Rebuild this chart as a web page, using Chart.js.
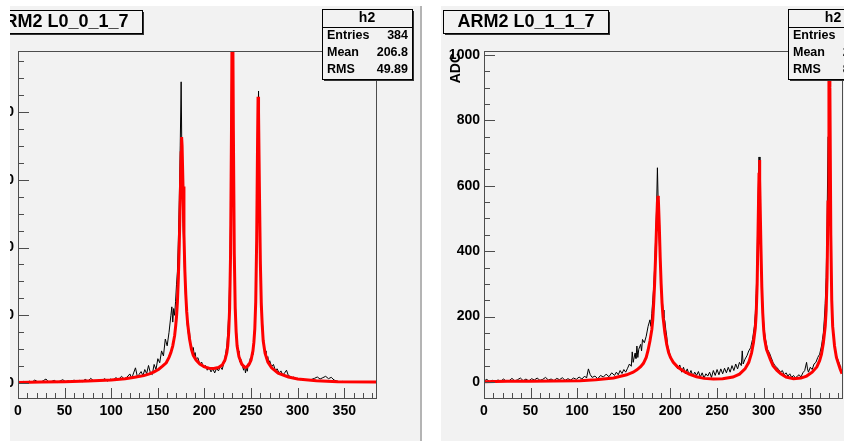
<!DOCTYPE html>
<html>
<head>
<meta charset="utf-8">
<title>ARM2 L0 ADC spectra</title>
<script src="https://cdn.jsdelivr.net/npm/chart.js@4.4.0/dist/chart.umd.min.js"></script>
<style>
body { margin: 0; background: #fff; width: 844px; height: 441px; overflow: hidden; position: relative; }
.pad { position: absolute; top: 6px; height: 435px; overflow: hidden; background: #f2f2f2; }
#padLeft { left: 10px; width: 410px; }
#padRight { left: 441px; width: 403px; }
#padLeft canvas { position: absolute; left: -35px; top: 0; }
#padRight canvas { position: absolute; left: 0; top: 0; }
#sep { position: absolute; left: 420px; top: 6px; width: 2px; height: 435px; background: #b4b4b4; }
</style>
</head>
<body>
<div class="pad" id="padLeft"><canvas id="leftChart" width="444" height="435"></canvas></div>
<div id="sep"></div>
<div class="pad" id="padRight"><canvas id="rightChart" width="444" height="435"></canvas></div>
<script>
// tick labels
var xLabels = [0, 50, 100, 150, 200, 250, 300, 350];
var yLabels = [0, 200, 400, 600, 800, 1000];
var statNames = ['Entries', 'Mean', 'RMS'];

// left pad: ARM2 L0_0_1_7
var leftTitle = 'ARM2 L0_0_1_7';
var leftStats = ['384', '206.8', '49.89'];
var leftBinX = [0,3,6,9,12,15,18,21,24,27,30,33,36,39,42,45,48,51,54,57,60,63,66,69,72,75,78,81,84,87,90,93,96,99,102,105,108,111,114,117,120,122,124,126,128,130,132,134,136,138,140,142,144,146,148,150,152,154,156,158,160,162,164,165,166,167,168,169,170,171,172,173,174,175,176,177,178,179,180,181,182,183,184,185,186,187,188,189,190,191,193,195,197,199,201,203,205,207,209,211,213,215,217,219,221,222,223,224,225,226,227,228,229,230,231,232,233,234,235,236,237,238,239,240,241,242,243,244,245,246,247,248,249,250,251,252,253,254,255,256,257,258,259,260,261,262,263,264,265,266,267,268,269,270,272,274,276,278,280,282,284,286,288,290,292,294,296,298,300,303,306,309,312,315,318,321,324,327,330,333,336,339,342,345,348,351,354,357,360,363,366,369,372,375,378,381,383];
var leftCounts = [8,2,5,1,6,3,9,4,2,7,12,3,5,8,2,6,10,4,7,3,9,5,8,4,11,6,14,7,5,10,8,13,6,12,9,16,11,20,12,18,27,14,30,45,19,26,34,22,40,28,52,30,25,55,40,72,60,95,80,130,110,150,200,225,180,220,200,240,290,330,420,540,700,889,610,470,380,300,240,190,160,140,150,110,112,95,105,82,90,70,75,55,62,45,52,38,46,33,42,30,44,36,48,40,62,75,92,110,150,200,300,480,900,1300,820,420,250,170,120,95,80,62,70,55,48,38,52,30,45,35,58,50,72,65,90,85,130,170,260,450,700,862,600,380,250,190,140,105,90,95,70,78,58,66,48,55,38,42,30,36,24,30,38,22,20,16,18,12,14,10,12,8,9,11,14,18,12,16,20,13,17,9,6,4,5,3,4,3,4,2,3,4,3,3,2,3,3];
var leftFitX = [0,25,50,75,100,115,125,135,141,146,151,155,159,162,164,166,168,169,170,171,172,173,174,175,175.5,176,177,178,179,180,181,182,184,186,188,191,195,200,205,210,215,219,222,224,225,226,227,228,229,230,231,232,233,234,235,237,240,243,245,248,250,252,253,254,255,256,257,257.5,258,259,260,261,262,263,265,268,272,279,290,300,320,343,384];
var leftFitY = [2,3,4,6,9,13,17,22,27,33,41,50,60,76,90,110,140,165,195,240,310,410,540,680,726,700,580,440,330,260,210,175,130,100,82,68,56,48,44,43,46,53,68,90,110,150,220,380,750,1250,750,380,220,150,110,78,56,47,47,56,68,95,120,160,240,420,720,845,800,560,350,230,170,125,88,62,45,29,18,12,7,4,3];

// right pad: ARM2 L0_1_1_7
var rightTitle = 'ARM2 L0_1_1_7';
var rightStats = ['384', '266.4', '88.72'];
var rightBinX = [0,3,6,9,12,15,18,21,24,27,30,33,36,39,42,45,48,51,54,57,60,63,66,69,72,75,78,81,84,87,90,93,96,99,102,105,108,110,112,114,116,119,122,125,128,131,134,137,140,142,144,146,148,150,152,154,156,158,159,160,162,163,164,165,166,168,169,170,172,174,176,178,179,180,181,182,183,184,185,186,187,188,189,190,191,192,193,194,195,196,197,198,199,200,202,204,206,208,210,212,214,216,218,220,222,224,226,228,230,232,234,236,238,240,242,244,246,248,250,252,254,256,258,260,262,264,266,268,270,272,274,276,277,278,280,282,284,286,288,290,291,292,293,294,295,296,297,298,299,300,301,302,303,304,306,308,310,312,314,316,318,320,322,324,326,328,330,332,334,336,338,340,342,344,346,347,348,350,352,354,356,358,360,362,363,364,365,366,367,368,369,370,371,372,373,374,375,376,378,380,382,383];
var rightCounts = [3,8,1,5,2,6,3,9,2,4,11,3,7,12,4,9,3,10,6,12,5,8,14,6,9,4,11,7,13,5,10,6,12,8,15,9,18,12,40,22,14,18,10,20,15,24,16,28,20,30,22,35,26,38,30,42,55,48,92,60,88,72,110,75,100,115,95,130,120,140,170,190,170,210,250,290,350,430,520,655,530,430,360,300,260,220,195,187,160,140,110,100,88,80,65,55,48,40,52,30,45,25,40,22,35,18,30,20,32,15,28,12,25,18,30,14,35,20,38,22,40,25,42,28,45,30,50,35,55,40,60,50,95,55,70,80,95,105,130,170,210,270,380,560,688,600,430,300,230,180,150,130,115,100,90,75,60,50,45,38,30,35,22,28,18,25,14,20,12,18,22,15,28,35,60,40,30,45,38,55,60,75,85,110,130,150,190,240,320,480,750,1100,950,500,280,180,140,110,80,65,50,45];
var rightFitX = [0,25,50,75,103,120,139,153,160,164,168,171,174,176,178,180,181,182,183,184,185,186,186.7,187,188,189,190,191,192,194,196,198,200,203,208,213,220,228,236,246,256,267,274,280,284,287,289,291,292,293,294,295,295.4,296,297,298,299,300,301,303,305,307,310,314,318,324,332,340,346,352,357,360,362,364,366,367,368,369,370,370.5,371,372,373,374,376,378,380,382,384];
var rightFitY = [1,2,2,3,4,7,12,22,30,37,47,57,75,97,125,160,190,240,300,380,470,550,569,560,480,380,300,240,200,150,115,90,75,60,45,35,24,16,11,9,10,15,24,40,60,89,120,165,210,300,470,640,679,620,420,290,210,160,131,100,85,70,50,36,26,15,10,12,18,30,46,65,85,119,170,220,320,550,950,1150,900,450,250,170,110,75,57,40,25];

var xRange = [0, 384];

function toPoints(xs, ys) {
    return xs.map(function(x, i) { return { x: x, y: ys[i] }; });
}

// ticks on every multiple of step inside the axis range
function stepTicks(step) {
    return function(scale) {
        var t = [];
        for (var v = Math.ceil(scale.min / step) * step; v <= scale.max; v += step) {
            t.push({ value: v });
        }
        scale.ticks = t;
    };
}

function drawBox(ctx, x, y, w, h) {
    ctx.fillStyle = '#333';
    ctx.fillRect(x + 2, y + 2, w, h);
    ctx.fillStyle = '#f2f2f2';
    ctx.fillRect(x, y, w, h);
    ctx.strokeStyle = '#000';
    ctx.lineWidth = 1;
    ctx.strokeRect(x + 0.5, y + 0.5, w, h);
    ctx.fillStyle = '#000';
}

// frame, inward ticks, title box, stats box and y title, ROOT style
var rootPad = {
    id: 'rootPad',
    afterDraw: function(chart, args, opts) {
        var ctx = chart.ctx;
        var a = chart.chartArea;
        var xs = chart.scales.x;
        var ys = chart.scales.y;
        ctx.save();
        ctx.strokeStyle = '#4d4d4d';
        ctx.lineWidth = 1;
        ctx.strokeRect(Math.round(a.left) + 0.5, Math.round(a.top) + 0.5, Math.round(a.right - a.left), Math.round(a.bottom - a.top));
        ctx.beginPath();
        xs.ticks.forEach(function(t) {
            var px = Math.round(xs.getPixelForValue(t.value)) + 0.5;
            var len = t.value % 50 === 0 ? 10 : 5;
            ctx.moveTo(px, a.bottom);
            ctx.lineTo(px, a.bottom - len);
        });
        ys.ticks.forEach(function(t) {
            var py = Math.round(ys.getPixelForValue(t.value)) + 0.5;
            var len = t.value % 200 === 0 ? 11 : 6;
            ctx.moveTo(a.left, py);
            ctx.lineTo(a.left + len, py);
        });
        ctx.stroke();

        // y axis title
        ctx.save();
        ctx.translate(15, a.top + 2);
        ctx.rotate(-Math.PI / 2);
        ctx.font = 'bold 14px "Liberation Sans", Arial, sans-serif';
        ctx.fillStyle = '#000';
        ctx.textAlign = 'right';
        ctx.textBaseline = 'middle';
        ctx.fillText('ADC', 0, 0);
        ctx.restore();

        // title box
        drawBox(ctx, 2, 4, 165, 23);
        ctx.font = 'bold 18px "Liberation Sans", Arial, sans-serif';
        ctx.textAlign = 'center';
        ctx.textBaseline = 'middle';
        ctx.fillText(opts.title, 85, 16);

        // stats box
        drawBox(ctx, 347, 3, 90, 70);
        ctx.beginPath();
        ctx.moveTo(347, 21.5);
        ctx.lineTo(437, 21.5);
        ctx.stroke();
        ctx.font = 'bold 14px "Liberation Sans", Arial, sans-serif';
        ctx.fillText('h2', 392, 12);
        ctx.font = 'bold 12.5px "Liberation Sans", Arial, sans-serif';
        var rowY = [30, 47, 64];
        statNames.forEach(function(name, i) {
            ctx.textAlign = 'left';
            ctx.fillText(name, 352, rowY[i]);
            ctx.textAlign = 'right';
            ctx.fillText(opts.stats[i], 433, rowY[i]);
        });
        ctx.restore();
    }
};

function makePad(canvasId, title, stats, binX, counts, fitX, fitY, yMin, yMax) {
    var ctx = document.getElementById(canvasId).getContext('2d');
    var tickFont = { family: '"Liberation Sans", Arial, sans-serif', size: 14, weight: 'bold' };
    return new Chart(ctx, {
        type: 'line',
        data: {
            datasets: [{
                data: toPoints(fitX, fitY),
                borderColor: '#ff0000',
                borderWidth: 3,
                pointRadius: 0,
                tension: 0
            }, {
                data: toPoints(binX, counts),
                borderColor: '#000000',
                borderWidth: 1,
                pointRadius: 0,
                tension: 0
            }]
        },
        options: {
            responsive: false,
            devicePixelRatio: 1,
            animation: false,
            events: [],
            layout: { padding: { top: 45, right: 43, left: 0, bottom: 0 } },
            scales: {
                x: {
                    type: 'linear',
                    min: xRange[0],
                    max: xRange[1],
                    border: { display: false },
                    grid: { display: false, drawTicks: false },
                    afterBuildTicks: stepTicks(10),
                    afterFit: function(scale) { scale.height = 43; },
                    ticks: {
                        autoSkip: false,
                        maxRotation: 0,
                        padding: 5,
                        color: '#000',
                        font: tickFont,
                        callback: function(v) { return xLabels.indexOf(v) >= 0 ? String(v) : ''; }
                    }
                },
                y: {
                    min: yMin,
                    max: yMax,
                    border: { display: false },
                    grid: { display: false, drawTicks: false },
                    afterBuildTicks: stepTicks(50),
                    afterFit: function(scale) { scale.width = 43; },
                    ticks: {
                        autoSkip: false,
                        padding: 4,
                        color: '#000',
                        font: tickFont,
                        callback: function(v) { return yLabels.indexOf(v) >= 0 ? String(v) : ''; }
                    }
                }
            },
            plugins: {
                legend: { display: false },
                tooltip: { enabled: false },
                rootPad: { title: title, stats: stats }
            }
        },
        plugins: [rootPad]
    });
}

makePad('leftChart', leftTitle, leftStats, leftBinX, leftCounts, leftFitX, leftFitY, -44, 980);
makePad('rightChart', rightTitle, rightStats, rightBinX, rightCounts, rightFitX, rightFitY, -49, 1012);
</script>
</body>
</html>
